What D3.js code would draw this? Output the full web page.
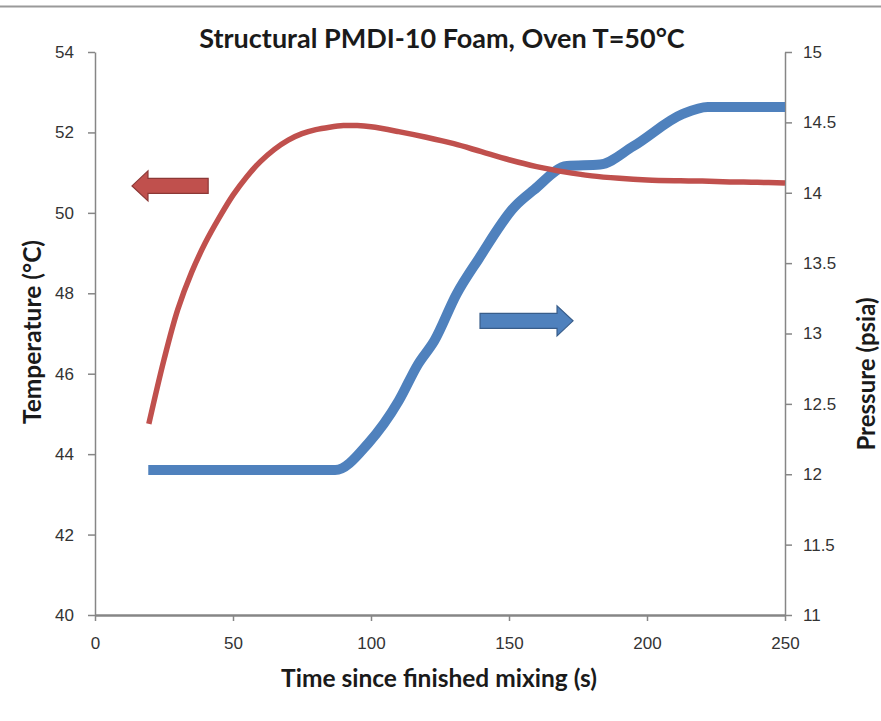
<!DOCTYPE html>
<html>
<head>
<meta charset="utf-8">
<script src="https://cdn.jsdelivr.net/npm/d3@7"></script>
<style>
  html, body { margin: 0; padding: 0; background: #fff; }
  svg { display: block; font-family: Lato, "Open Sans", sans-serif; }
</style>
</head>
<body>
<svg id="chart" width="881" height="721"></svg>
<script>
// Temperature (°C) and pressure (psia) inside structural PMDI-10 foam in a 50 °C oven
const tempTime = [19.5, 25, 30, 35, 40, 45, 50, 55, 60, 65, 70, 75, 80, 85, 90, 95, 100, 110, 120, 130, 140, 150, 160, 170, 180, 190, 200, 210, 220, 230, 240, 250];
const tempValues = [44.75, 46.35, 47.6, 48.52, 49.26, 49.88, 50.44, 50.9, 51.28, 51.58, 51.81, 51.97, 52.07, 52.13, 52.17, 52.17, 52.14, 52.02, 51.88, 51.72, 51.52, 51.32, 51.15, 51.02, 50.92, 50.86, 50.82, 50.80, 50.79, 50.77, 50.76, 50.74];

const presTime = [19.3, 40, 60, 87, 99, 110, 117, 123, 131, 139, 152, 159, 171, 183, 195, 213, 222, 235, 250];
const presValues = [12.03, 12.03, 12.03, 12.03, 12.22, 12.52, 12.78, 12.95, 13.28, 13.53, 13.9, 14.02, 14.19, 14.2, 14.33, 14.56, 14.61, 14.61, 14.61];

const xTicks = [0, 50, 100, 150, 200, 250];
const tempTicks = [40, 42, 44, 46, 48, 50, 52, 54];
const presTicks = [11, 11.5, 12, 12.5, 13, 13.5, 14, 14.5, 15];

// Arrow annotations pointing each curve to its axis (data units)
const tempArrow = { from: 41, to: 13.4, at: 50.67 };
const presArrow = { from: 139.5, to: 173.2, at: 13.09 };

const svg = d3.select("#chart");
const plotLeft = 95, plotRight = 785, plotTop = 52, plotBottom = 615;

const x = d3.scaleLinear().domain([0, 250]).range([plotLeft, plotRight]);
const yT = d3.scaleLinear().domain([40, 54]).range([plotBottom, plotTop]);
const yP = d3.scaleLinear().domain([11, 15]).range([plotBottom, plotTop]);

const axisColor = "#868686";
const textColor = "#333333";
const titleColor = "#1a1a1a";

// thin rule across the top of the figure
svg.append("line").attr("x1", 0).attr("x2", 881).attr("y1", 6.5).attr("y2", 6.5)
  .attr("stroke", "#9a9a9a").attr("stroke-width", 2);

function styleAxis(g) {
  g.selectAll("path, line").attr("stroke", axisColor).attr("stroke-width", 1.5);
  g.selectAll("text").attr("fill", textColor).attr("font-size", 17);
}

svg.append("g").attr("transform", `translate(0,${plotBottom})`)
  .call(d3.axisBottom(x).tickValues(xTicks).tickSize(6).tickPadding(16).tickSizeOuter(0))
  .call(styleAxis)
  .call(g => g.select(".domain").attr("stroke-width", 2.5));

svg.append("g").attr("transform", `translate(${plotLeft},0)`)
  .call(d3.axisLeft(yT).tickValues(tempTicks).tickSize(7).tickPadding(14).tickSizeOuter(0))
  .call(styleAxis);

svg.append("g").attr("transform", `translate(${plotRight},0)`)
  .call(d3.axisRight(yP).tickValues(presTicks).tickSize(7).tickPadding(11).tickSizeOuter(0).tickFormat(d3.format("")))
  .call(styleAxis);

// series lines
const presLine = d3.line().x((d, i) => x(presTime[i])).y(d => yP(d)).curve(d3.curveMonotoneX);
svg.append("path").datum(presValues).attr("d", presLine)
  .attr("fill", "none").attr("stroke", "#4F81BD").attr("stroke-width", 10)
  .attr("stroke-linejoin", "round");

const tempLine = d3.line().x((d, i) => x(tempTime[i])).y(d => yT(d)).curve(d3.curveCatmullRom.alpha(0.5));
svg.append("path").datum(tempValues).attr("d", tempLine)
  .attr("fill", "none").attr("stroke", "#C0504D").attr("stroke-width", 5.5)
  .attr("stroke-linejoin", "round");

// block arrows
function blockArrow(x0, x1, yc, fill, stroke) {
  const dir = Math.sign(x1 - x0);
  const head = 16, shaftHalf = 7.5, headHalf = 15;
  const hb = x1 - dir * head;
  const pts = [[x0, yc - shaftHalf], [hb, yc - shaftHalf], [hb, yc - headHalf], [x1, yc],
               [hb, yc + headHalf], [hb, yc + shaftHalf], [x0, yc + shaftHalf]];
  svg.append("polygon").attr("points", pts.map(p => p.join(",")).join(" "))
    .attr("fill", fill).attr("stroke", stroke).attr("stroke-width", 1.2);
}
blockArrow(x(tempArrow.from), x(tempArrow.to), yT(tempArrow.at), "#C0504D", "#8C3836");
blockArrow(x(presArrow.from), x(presArrow.to), yP(presArrow.at), "#4F81BD", "#385D8A");

// titles
svg.append("text").attr("x", 442).attr("y", 48).attr("text-anchor", "middle")
  .attr("font-size", 27).attr("font-weight", "bold").attr("fill", titleColor)
  .text("Structural PMDI-10 Foam, Oven T=50°C");

svg.append("text").attr("x", 439).attr("y", 687).attr("text-anchor", "middle")
  .attr("font-size", 24.5).attr("font-weight", "bold").attr("fill", titleColor)
  .text("Time since finished mixing (s)");

svg.append("text").attr("transform", "translate(41,332) rotate(-90)").attr("text-anchor", "middle")
  .attr("font-size", 24.5).attr("font-weight", "bold").attr("fill", titleColor)
  .text("Temperature (°C)");

svg.append("text").attr("transform", "translate(875,374) rotate(-90)").attr("text-anchor", "middle")
  .attr("font-size", 24).attr("font-weight", "bold").attr("fill", titleColor)
  .text("Pressure (psia)");
</script>
</body>
</html>
